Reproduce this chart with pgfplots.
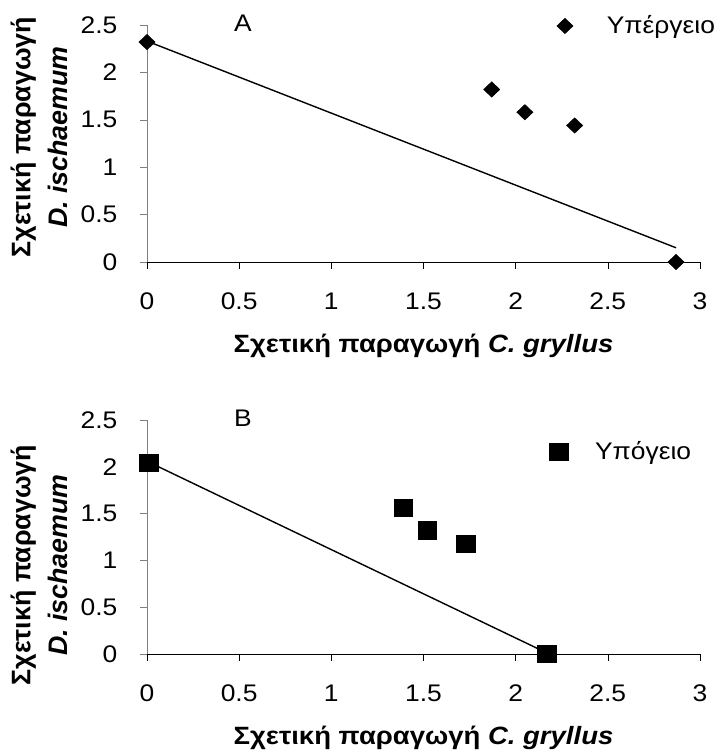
\documentclass[border=0pt]{standalone}
\usepackage{fontspec}
\setmainfont{Liberation Sans}[FakeStretch=1.1]
\newfontfamily\labelfont{Liberation Sans}
\usepackage{pgfplots}
\pgfplotsset{compat=1.18}

\begin{document}
\begin{tikzpicture}
\useasboundingbox (-73.5pt,-244.5pt) rectangle (283.5pt,131pt);
\pgfplotsset{
  panel/.style={
    width=276.5pt, scale only axis,
    xmin=0, xmax=3, ymin=0, ymax=2.5,
    axis x line*=bottom, axis y line*=left,
    x axis line style={black,-}, y axis line style={gray,-},
    tick align=outside, major tick length=3.25pt,
    x tick style={black},
    y tick style={gray},
    xtick={0,0.5,1,1.5,2,2.5,3}, ytick={0,0.5,1,1.5,2,2.5},
    ticklabel style={font=\fontsize{12}{14}\selectfont},
    /pgf/number format/assume math mode=true,
    xticklabel style={yshift=-8.5pt},
    yticklabel style={xshift=-8pt},
    clip=false,
    ylabel={\textbf{Σχετική παραγωγή}\\\textbf{\textit{D. ischaemum}}},
    ylabel style={anchor=center, align=center,
      font=\labelfont\fontsize{13.4}{18.5}\selectfont},
    xlabel={\textbf{Σχετική παραγωγή \textit{C. gryllus}}},
    xlabel style={font=\fontsize{12.5}{14}\selectfont, anchor=center},
    legend style={draw=none, fill=none, font=\fontsize{12}{14}\selectfont, anchor=west},
  }
}
% A: Υπέργειο
\begin{axis}[panel, height=118.5pt,
    ylabel style={at={(axis description cs:-0.195,0.527)}},
    xlabel style={at={(axis description cs:0.5,-0.354)}},
    legend style={at={(axis description cs:0.730,0.996)}, column sep=15pt}]
  \addplot[black, line width=0.7pt, forget plot] coordinates {(0,2.33) (2.87,0.15)};
  \addplot[only marks, mark=diamond*, mark size=3.75pt, mark options={xscale=1.4}, black] coordinates {
    (0,2.32) (1.87,1.82) (2.05,1.58) (2.32,1.44) (2.87,0)
  };
  \addlegendentry{Υπέργειο}
  \node[font=\fontsize{12}{14}\selectfont] at (axis cs:0.52,2.52) {A};
\end{axis}
% B: Υπόγειο
\begin{axis}[panel, height=117pt, at={(0,-196pt)},
    ylabel style={at={(axis description cs:-0.195,0.38)}},
    xlabel style={at={(axis description cs:0.5,-0.359)}},
    legend style={at={(axis description cs:0.717,0.863)}, column sep=11.5pt}]
  \addplot[black, line width=0.7pt, forget plot] coordinates {(0.01,2.05) (2.16,0.02)};
  \addplot[only marks, mark=square*, mark size=4.3pt, mark options={xscale=1.06}, black] coordinates {
    (0.01,2.04) (1.39,1.56) (1.52,1.32) (1.73,1.18) (2.17,0)
  };
  \addlegendentry{Υπόγειο}
  \node[font=\fontsize{12}{14}\selectfont] at (axis cs:0.52,2.52) {B};
\end{axis}
\end{tikzpicture}
\end{document}
